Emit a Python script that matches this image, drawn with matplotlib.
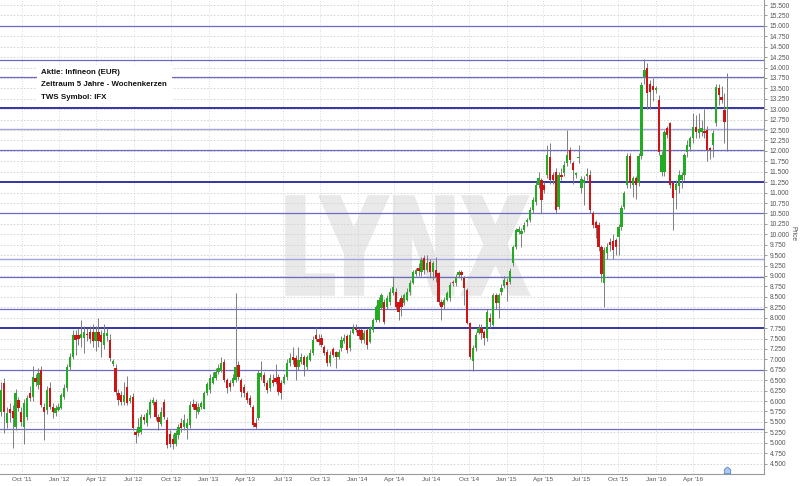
import matplotlib
matplotlib.use("Agg")
import matplotlib.pyplot as plt
from matplotlib.patches import Rectangle, PathPatch
from matplotlib.textpath import TextPath
from matplotlib.font_manager import FontProperties
from matplotlib.transforms import Affine2D
import pandas as pd

# weekly candles, Infineon (EUR)
first_week = "2011-08-12"

opens = [
    5.74, 6.44, 5.48, 5.82, 5.75, 5.38, 6.03, 5.74, 5.38, 5.62,
    6.20, 6.10, 6.56, 6.39, 6.75, 5.86, 5.79, 6.32, 5.86, 5.72,
    5.79, 5.84, 6.10, 6.32, 6.82, 7.06, 7.59, 7.58, 7.52, 7.52,
    7.62, 7.65, 7.65, 7.44, 7.66, 7.58, 7.35, 7.55, 7.47, 6.90,
    6.80, 6.20, 6.15, 5.98, 6.34, 6.00, 6.10, 5.26, 5.24, 5.26,
    5.62, 5.48, 5.67, 5.96, 5.98, 5.62, 5.45, 5.98, 5.55, 5.20,
    5.10, 4.98, 5.19, 5.48, 5.38, 5.36, 5.43, 5.92, 5.92, 5.74,
    5.86, 5.82, 6.20, 6.27, 6.44, 6.56, 6.70, 6.75, 6.94, 6.51,
    6.44, 6.44, 6.51, 6.87, 6.51, 6.34, 6.20, 6.08, 5.86, 5.48,
    5.60, 6.58, 6.63, 6.44, 6.32, 6.51, 6.56, 6.58, 6.44, 6.44,
    6.58, 6.92, 7.06, 7.04, 6.82, 6.94, 7.06, 6.82, 6.99, 7.16,
    7.58, 7.50, 7.52, 7.30, 7.18, 6.92, 7.25, 7.18, 7.06, 7.28,
    7.45, 7.55, 7.28, 7.64, 7.76, 7.71, 7.71, 7.47, 7.71, 7.42,
    7.71, 7.95, 7.95, 8.24, 8.38, 8.26, 8.38, 8.60, 8.62, 8.38,
    8.48, 8.36, 8.43, 8.62, 8.84, 9.05, 9.19, 9.09, 9.43, 9.14,
    9.33, 9.09, 9.14, 9.07, 8.38, 8.31, 8.43, 8.48, 8.86, 8.82,
    9.02, 9.09, 8.94, 8.67, 7.88, 6.96, 7.28, 7.64, 7.76, 7.66,
    7.52, 8.00, 7.83, 8.55, 8.36, 8.62, 8.77, 8.86, 8.86, 9.31,
    9.70, 10.05, 10.00, 10.10, 10.30, 10.34, 10.58, 10.77, 11.18, 11.30,
    11.18, 11.42, 11.85, 11.42, 11.50, 10.65, 11.42, 11.48, 11.72, 12.02,
    11.72, 11.42, 11.82, 11.10, 11.22, 11.40, 11.42, 10.50, 10.30, 10.22,
    9.70, 8.82, 9.55, 9.82, 9.84, 9.86, 9.93, 10.17, 10.65, 11.18,
    11.88, 11.18, 11.35, 11.23, 11.88, 13.78, 14.00, 13.60, 13.56, 13.46,
    13.22, 11.50, 11.50, 12.55, 12.67, 11.23, 11.06, 11.15, 11.30, 11.42,
    11.98, 12.10, 12.30, 12.57, 12.42, 12.45, 12.48, 12.50, 12.07, 12.14,
    12.67, 13.50, 13.30, 12.98, 13.00,
]
highs = [
    6.45, 6.55, 5.85, 5.95, 5.90, 6.30, 6.10, 5.85, 6.05, 6.15,
    6.35, 6.85, 6.65, 6.80, 6.85, 5.95, 6.35, 6.45, 5.95, 5.90,
    5.95, 6.20, 6.40, 6.90, 7.15, 7.70, 7.70, 7.75, 7.95, 7.80,
    7.75, 7.80, 7.85, 7.80, 8.00, 7.70, 7.85, 7.75, 7.60, 7.00,
    6.90, 6.30, 6.25, 6.45, 6.60, 6.15, 6.20, 5.30, 5.60, 5.70,
    5.70, 5.80, 6.05, 6.10, 6.05, 5.68, 5.85, 6.05, 5.62, 5.30,
    5.20, 5.30, 5.45, 5.60, 5.70, 5.60, 6.00, 6.05, 6.00, 5.95,
    6.00, 6.25, 6.45, 6.65, 6.70, 6.80, 6.90, 7.05, 7.00, 6.55,
    6.50, 6.65, 8.60, 6.95, 6.55, 6.40, 6.25, 6.15, 5.90, 5.60,
    6.75, 6.95, 6.70, 6.50, 6.65, 6.65, 6.90, 6.65, 6.50, 6.65,
    7.00, 7.15, 7.30, 7.10, 7.30, 7.15, 7.10, 7.10, 7.25, 7.55,
    7.78, 7.60, 7.60, 7.35, 7.25, 7.20, 7.30, 7.20, 7.25, 7.55,
    7.60, 7.60, 7.70, 7.85, 7.85, 7.75, 7.75, 7.70, 7.75, 7.80,
    8.00, 8.30, 8.50, 8.60, 8.45, 8.55, 8.70, 9.00, 8.70, 8.45,
    8.55, 8.60, 8.70, 8.90, 9.15, 9.20, 9.30, 9.45, 9.50, 9.50,
    9.40, 9.35, 9.45, 9.10, 8.45, 8.50, 8.65, 8.85, 8.90, 9.05,
    9.15, 9.15, 9.00, 8.70, 7.90, 7.35, 7.65, 7.85, 7.85, 7.70,
    8.20, 8.10, 8.60, 8.60, 8.60, 8.80, 9.00, 8.95, 9.20, 9.75,
    10.15, 10.20, 10.15, 10.30, 10.40, 10.65, 10.90, 11.25, 11.50, 11.35,
    11.25, 12.15, 12.20, 11.50, 11.60, 11.50, 11.60, 11.75, 12.50, 12.10,
    11.75, 11.50, 12.15, 11.40, 11.40, 11.60, 11.55, 10.55, 10.35, 10.30,
    9.75, 9.70, 9.80, 9.90, 10.00, 9.90, 10.25, 10.70, 11.05, 11.95,
    11.95, 11.40, 11.40, 11.95, 13.65, 14.20, 14.10, 13.70, 13.75, 13.55,
    13.35, 12.00, 12.50, 12.60, 12.70, 11.25, 11.30, 11.55, 11.50, 11.95,
    12.25, 12.35, 12.90, 12.85, 12.90, 12.75, 13.00, 12.60, 12.10, 12.50,
    13.60, 13.60, 13.55, 13.40, 13.87,
]
lows = [
    5.65, 5.24, 5.35, 5.50, 4.88, 5.30, 5.75, 5.40, 4.98, 5.55,
    6.00, 6.00, 6.35, 6.30, 5.85, 5.07, 5.70, 5.80, 5.60, 5.65,
    5.75, 5.80, 6.05, 6.25, 6.75, 7.00, 7.10, 7.35, 7.30, 7.15,
    7.45, 7.40, 7.30, 7.20, 7.30, 7.05, 7.25, 7.45, 6.95, 6.85,
    6.15, 5.90, 5.90, 5.90, 5.90, 5.95, 5.30, 5.00, 5.15, 5.20,
    5.45, 5.40, 5.60, 5.90, 5.55, 5.30, 5.40, 5.58, 4.88, 4.90,
    4.85, 4.92, 5.10, 5.25, 5.30, 5.10, 5.35, 5.80, 5.60, 5.70,
    5.80, 5.80, 6.15, 6.20, 6.40, 6.50, 6.65, 6.70, 6.45, 6.20,
    6.25, 6.35, 6.45, 6.50, 6.10, 6.10, 5.95, 5.85, 5.38, 5.33,
    5.55, 6.50, 6.35, 6.20, 6.25, 6.35, 6.40, 6.15, 6.05, 6.40,
    6.50, 6.85, 6.90, 6.50, 6.75, 6.90, 6.60, 6.75, 6.95, 7.10,
    7.45, 7.35, 7.30, 7.10, 6.85, 6.85, 7.05, 6.80, 7.00, 7.20,
    7.40, 7.15, 7.20, 7.60, 7.65, 7.50, 7.40, 7.40, 7.25, 7.40,
    7.65, 7.90, 7.90, 8.20, 7.85, 8.20, 8.30, 8.55, 8.20, 7.95,
    8.05, 8.30, 8.40, 8.55, 8.80, 9.00, 9.00, 9.00, 9.05, 9.10,
    8.95, 8.90, 8.85, 8.30, 7.95, 8.20, 8.40, 8.40, 8.75, 8.75,
    8.95, 8.90, 8.30, 7.85, 7.00, 6.72, 7.20, 7.60, 7.50, 7.35,
    7.45, 7.75, 7.80, 8.20, 8.00, 8.55, 8.70, 8.40, 8.80, 9.25,
    9.65, 10.00, 9.70, 10.05, 10.20, 10.30, 10.50, 10.70, 11.10, 10.50,
    11.00, 11.35, 11.20, 11.20, 10.50, 10.60, 11.30, 11.40, 11.65, 11.70,
    11.20, 11.35, 11.70, 11.00, 10.70, 11.30, 10.50, 10.15, 9.90, 9.60,
    8.85, 8.26, 9.40, 9.60, 9.40, 9.50, 9.50, 10.10, 10.60, 11.10,
    11.10, 10.90, 10.85, 11.15, 11.80, 13.60, 13.00, 13.00, 13.20, 13.40,
    11.90, 11.40, 11.40, 12.30, 11.10, 10.10, 10.60, 11.00, 11.10, 11.30,
    11.85, 12.00, 12.20, 12.30, 12.30, 12.35, 12.30, 11.75, 11.80, 11.85,
    12.60, 13.10, 13.15, 12.20, 12.00,
]
closes = [
    6.27, 5.74, 5.72, 5.72, 5.60, 6.20, 5.84, 5.50, 5.96, 6.08,
    6.08, 6.58, 6.46, 6.68, 5.91, 5.74, 6.27, 5.86, 5.74, 5.84,
    5.86, 6.15, 6.32, 6.82, 7.06, 7.59, 7.47, 7.50, 7.60, 7.66,
    7.58, 7.50, 7.44, 7.66, 7.44, 7.42, 7.64, 7.64, 7.04, 6.96,
    6.22, 6.03, 5.98, 6.15, 5.96, 6.08, 5.36, 5.19, 5.38, 5.62,
    5.55, 5.72, 5.98, 6.03, 5.62, 5.50, 5.74, 5.62, 4.95, 4.98,
    4.98, 5.24, 5.38, 5.36, 5.55, 5.48, 5.91, 5.86, 5.79, 5.86,
    5.95, 6.20, 6.40, 6.56, 6.58, 6.70, 6.80, 6.92, 6.51, 6.32,
    6.34, 6.56, 6.82, 6.58, 6.22, 6.20, 6.03, 5.91, 5.43, 5.38,
    6.68, 6.68, 6.44, 6.27, 6.56, 6.44, 6.46, 6.22, 6.20, 6.58,
    6.92, 7.04, 6.99, 6.82, 6.99, 7.06, 6.87, 7.06, 7.16, 7.47,
    7.50, 7.42, 7.35, 7.16, 6.92, 7.11, 7.11, 7.06, 7.18, 7.47,
    7.52, 7.23, 7.59, 7.76, 7.71, 7.55, 7.47, 7.64, 7.35, 7.76,
    7.95, 8.26, 8.43, 8.55, 7.90, 8.48, 8.62, 8.74, 8.26, 8.14,
    8.26, 8.55, 8.62, 8.84, 9.09, 9.14, 9.12, 9.38, 9.14, 9.31,
    9.09, 9.31, 8.98, 8.38, 8.26, 8.43, 8.60, 8.79, 8.82, 8.96,
    9.09, 9.02, 8.70, 7.88, 7.06, 7.28, 7.59, 7.76, 7.64, 7.52,
    8.14, 7.90, 8.55, 8.36, 8.55, 8.72, 8.91, 8.79, 9.12, 9.70,
    10.10, 10.12, 10.08, 10.22, 10.34, 10.58, 10.82, 11.18, 11.35, 10.82,
    11.06, 11.90, 11.30, 11.30, 10.58, 11.42, 11.38, 11.66, 11.90, 11.78,
    11.54, 11.46, 11.85, 11.32, 11.30, 11.45, 10.58, 10.22, 10.15, 9.70,
    9.05, 9.62, 9.70, 9.74, 9.62, 9.70, 10.17, 10.63, 10.99, 11.88,
    11.23, 11.35, 11.18, 11.88, 13.58, 13.94, 13.39, 13.42, 13.46, 13.50,
    11.97, 11.90, 12.45, 12.38, 11.18, 10.87, 11.20, 11.42, 11.42, 11.90,
    12.14, 12.30, 12.57, 12.45, 12.52, 12.55, 12.42, 12.02, 12.02, 12.42,
    13.53, 13.34, 13.22, 12.70, 13.05,
]

# horizontal support / resistance lines
levels = [15.0, 14.18, 13.77, 13.03, 12.53, 12.02, 11.25, 10.51,
          9.40, 8.98, 8.20, 7.75, 6.75, 5.33]
level_kind = ["m", "m", "m", "strong", "light", "m", "strong", "m",
              "light", "m", "m", "strong", "m", "m"]

info_lines = ["Aktie: Infineon (EUR)",
              "Zeitraum 5 Jahre - Wochenkerzen",
              "TWS Symbol: IFX"]

price_ticks = [4.5 + 0.25 * i for i in range(45)]
quarter_ticks = pd.date_range("2011-10-01", "2016-04-01", freq="QS-JAN")

assert len(opens) == len(highs) == len(lows) == len(closes)
dates = pd.date_range(first_week, periods=len(closes), freq="W-FRI")

W, H = 800, 486
fig = plt.figure(figsize=(8, 4.86), dpi=100)
ax = fig.add_axes([0, 1 - 474 / H, 764 / W, 474 / H])
ax.set_facecolor("white")

# watermark, squeezed into the box it covers in the original
wm = TextPath((0, 0), "LYNX", size=100,
              prop=FontProperties(family="DejaVu Sans", weight="bold"))
bb = wm.get_extents()
wm_tr = (Affine2D().translate(-bb.x0, -bb.y0)
         .scale(241 / bb.width / W, 97 / bb.height / H)
         .translate(287 / W, (H - 294) / H) + fig.transFigure)
# a same-colour outline makes the strokes heavier, like the original
ax.add_patch(PathPatch(wm, transform=wm_tr, facecolor="#e9e9e9",
                       edgecolor="#e9e9e9", lw=2.5, joinstyle="miter",
                       zorder=0.3))

# grid
ax.set_axisbelow(True)
ax.yaxis.grid(True, color="#cfcfcf", ls=(0, (2, 2)), lw=0.6)
ax.xaxis.grid(True, color="#cfcfcf", ls=(0, (1, 2)), lw=0.6)

line_style = {"m": ("#6b6bc4", 0.9), "strong": ("#3434a6", 1.4),
              "light": ("#a3a3de", 1.0)}
for lv, kind in zip(levels, level_kind):
    col, lw = line_style[kind]
    ax.axhline(lv, color=col, lw=lw, zorder=1)

# candles
colors = ["#22ac22" if c >= o else "#d01414" for o, c in zip(opens, closes)]
bottoms = [min(o, c) for o, c in zip(opens, closes)]
heights = [max(abs(c - o), 0.04) for o, c in zip(opens, closes)]
ax.vlines(dates, lows, highs, color="#7d7d7d", lw=0.7, zorder=2)
ax.bar(dates, heights, bottom=bottoms, width=5.6, color=colors,
       linewidth=0, zorder=3)

# event marker under the last candle
house = [(-1, -1), (1, -1), (1, 0.3), (0, 1.1), (-1, 0.3), (-1, -1)]
ax.plot([dates[-1]], [4.35], marker=house, ms=5, color="#a9c9f2",
        mec="#5b86cc", mew=0.6, zorder=4, clip_on=False)

ax.set_xlim(pd.Timestamp("2011-08-09"), pd.Timestamp("2016-09-22"))
ax.set_ylim(4.25, 15.62)

ax.yaxis.tick_right()
ax.set_yticks(price_ticks)
ax.set_yticklabels([f"{v:.3f}" for v in price_ticks])
ax.tick_params(axis="y", length=2.5, width=0.6, color="#888888", pad=1.5,
               labelsize=4.8, labelcolor="#555555")
for lab in ax.get_yticklabels():
    lab.set_fontfamily("Liberation Sans")

ax.set_xticks(quarter_ticks)
ax.set_xticklabels([d.strftime("%b '%y") for d in quarter_ticks])
ax.tick_params(axis="x", length=0, pad=2.5, labelsize=4.6,
               labelcolor="#555555")
for lab in ax.get_xticklabels():
    lab.set_fontfamily("Liberation Sans")

for side in ("left", "top"):
    ax.spines[side].set_visible(False)
for side in ("right", "bottom"):
    ax.spines[side].set_color("#9a9a9a")
    ax.spines[side].set_linewidth(0.8)

fig.text(793 / W, 1 - 234 / H, "Price", rotation=270, ha="center",
         va="center", fontsize=4.8, color="#555555", family="Liberation Sans")

# info box
ax.add_patch(Rectangle((37 / W, 1 - 105 / H), 135 / W, 39 / H,
                       transform=fig.transFigure, facecolor="white",
                       edgecolor="none", zorder=5))
for i, line in enumerate(info_lines):
    ax.text(41 / W, 1 - (73 + 12 * i) / H, line, transform=fig.transFigure,
            ha="left", va="center", fontsize=5.7, fontweight="bold",
            family="Liberation Sans", color="#111111", zorder=6)

fig.savefig("out.png", dpi=100)
